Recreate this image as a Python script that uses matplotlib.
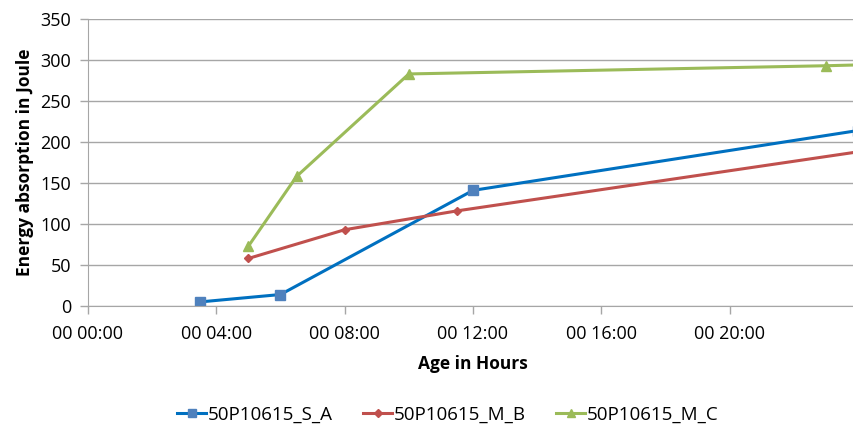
import matplotlib
matplotlib.use("Agg")
import matplotlib.pyplot as plt

plt.rcParams['font.family'] = ['Open Sans', 'DejaVu Sans']

# data (age in hours, energy in J)
hours_sa = [3.5, 6.0, 12.0, 24.0]
energy_sa = [5, 14, 141, 214]
hours_mb = [5.0, 8.0, 11.5, 24.0]
energy_mb = [58, 93, 116, 188]
hours_mc = [5.0, 6.5, 10.0, 23.0, 24.0]
energy_mc = [73, 158, 283, 293, 294]

series_names = ['50P10615_S_A', '50P10615_M_B', '50P10615_M_C']
x_ticks = [0, 4, 8, 12, 16, 20, 24]
x_tick_labels = ['00 00:00', '00 04:00', '00 08:00', '00 12:00', '00 16:00', '00 20:00', '']
y_ticks = [0, 50, 100, 150, 200, 250, 300, 350]

fig = plt.figure(figsize=(8.54, 4.30), dpi=100)
ax = fig.add_axes([88 / 854, 1 - 306 / 430, (858 - 88) / 854, (306 - 19) / 430])

grid_c = '#a6a6a6'
ax.plot(hours_sa, energy_sa, color='#0070c0', lw=2.2, marker='s', ms=6.5,
        mfc='#4f81bd', mec='#4f81bd', label=series_names[0])
ax.plot(hours_mb, energy_mb, color='#c0504d', lw=2.2, marker='D', ms=4.5,
        mfc='#c0504d', mec='#c0504d', label=series_names[1])
ax.plot(hours_mc, energy_mc, color='#9bbb59', lw=2.2, marker='^', ms=7,
        mfc='#9bbb59', mec='#9bbb59', label=series_names[2])

ax.set_xlim(0, 24)
ax.set_ylim(0, 350)
ax.set_xticks(x_ticks)
ax.set_xticklabels(x_tick_labels)
ax.set_yticks(y_ticks)
ax.yaxis.grid(True, color=grid_c, lw=1)
ax.set_axisbelow(True)
for side in ['top', 'right']:
    ax.spines[side].set_visible(False)
for side in ['left', 'bottom']:
    ax.spines[side].set_color(grid_c)
ax.tick_params(axis='both', colors=grid_c, length=6, width=1, labelcolor='black',
               labelsize=13, pad=6)
ax.tick_params(axis='x', pad=8)

ax.set_xlabel('Age in Hours', fontsize=12.5, fontweight='bold', labelpad=8)
ax.set_ylabel('Energy absorption in Joule', fontsize=12.5, fontweight='bold', labelpad=5)

fig.legend(loc='center', bbox_to_anchor=(448 / 854, 1 - 415 / 430), ncol=3,
           frameon=False, fontsize=13.5, handlelength=1.55, columnspacing=1.6,
           handletextpad=0.1, markerscale=0.8)

fig.savefig('out.png', dpi=100)
